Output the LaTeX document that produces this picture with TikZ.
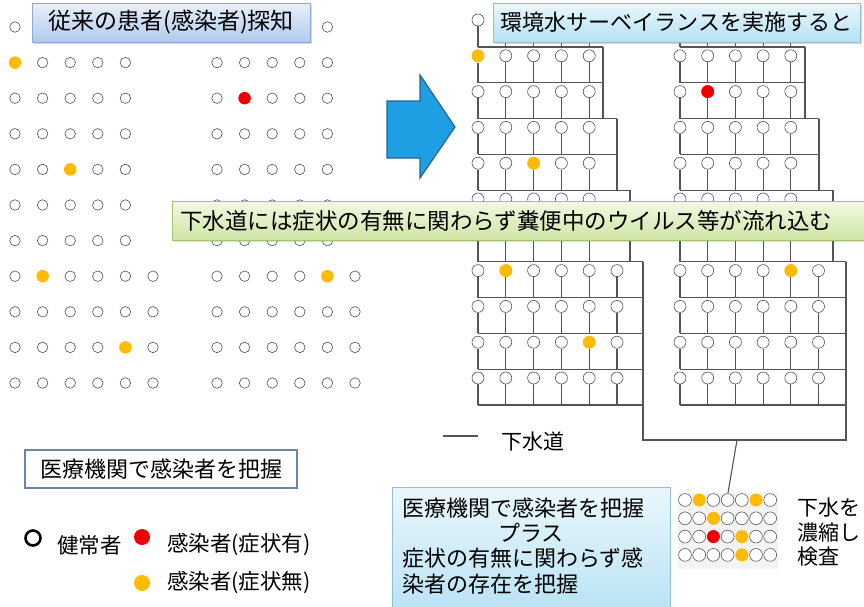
\documentclass[tikz,border=0pt]{standalone}
\usepackage{fontspec}
\setmainfont{Noto Sans CJK JP}
\usetikzlibrary{shadows}
\definecolor{dotorange}{HTML}{FFBB00}
\definecolor{dotred}{HTML}{EE0000}
\definecolor{pipegray}{HTML}{555555}
\definecolor{ringgray}{HTML}{505050}
\definecolor{arrowfill}{HTML}{1E9FE3}
\definecolor{arrowline}{HTML}{23639A}
\definecolor{tLtop}{HTML}{E8F0FB}
\definecolor{tLbot}{HTML}{B0CAEC}
\definecolor{tLedge}{HTML}{8EA9CF}
\definecolor{tRtop}{HTML}{EAF7FC}
\definecolor{tRbot}{HTML}{B4E1F4}
\definecolor{tRedge}{HTML}{93BFD3}
\definecolor{gTop}{HTML}{F3FAE4}
\definecolor{gBot}{HTML}{CDE5A4}
\definecolor{gEdge}{HTML}{A6C17A}
\definecolor{boxedge}{HTML}{6C86AA}
\definecolor{concbg}{HTML}{F3F3F3}
\tikzset{
  ring/.style={circle,draw=ringgray,line width=0.6pt,fill=white,inner sep=0pt,minimum size=10.5pt},
  ringR/.style={ring,minimum size=12pt},
  ringC/.style={ring,minimum size=12.8pt,line width=0.55pt},
  orng/.style={draw=none,fill=dotorange,minimum size=12.5pt},
  redd/.style={draw=none,fill=dotred,minimum size=12.5pt},
  orngR/.style={draw=none,fill=dotorange,minimum size=13pt},
  reddR/.style={draw=none,fill=dotred,minimum size=13pt},
  pipe/.style={draw=pipegray,line width=1.1pt},
  titleL/.style={draw=tLedge,line width=0.8pt,top color=tLtop,bottom color=tLbot,
    drop shadow={shadow xshift=2pt,shadow yshift=-2pt,opacity=0.3}},
  titleR/.style={draw=tRedge,line width=0.8pt,top color=tRtop,bottom color=tRbot,
    drop shadow={shadow xshift=2pt,shadow yshift=-2pt,opacity=0.3}},
  bannerG/.style={draw=gEdge,line width=0.8pt,top color=gTop,bottom color=gBot,
    drop shadow={shadow xshift=2pt,shadow yshift=-2pt,opacity=0.25}},
  plusbox/.style={draw=tRedge,line width=0.8pt,top color=tRtop,bottom color=tRbot},
  txt/.style={inner sep=0pt},
  % coloured dots
  dotL-1-1/.style={orng}, dotM-2-2/.style={redd}, dotL-4-3/.style={orng},
  dotL-7-2/.style={orng}, dotM-7-5/.style={orng}, dotL-9-5/.style={orng},
  dotP-1-1/.style={orngR}, dotQ-2-2/.style={reddR}, dotP-4-3/.style={orngR},
  dotP-7-2/.style={orngR}, dotQ-7-5/.style={orngR}, dotP-9-5/.style={orngR},
  dotC-1-2/.style={orngR}, dotC-1-6/.style={orngR}, dotC-2-3/.style={orngR},
  dotC-3-3/.style={reddR}, dotC-3-5/.style={orngR}, dotC-4-5/.style={orngR},
}
\begin{document}
\begin{tikzpicture}[x=1pt,y=-1pt,font=\fontsize{22}{26}\selectfont]
\useasboundingbox[fill=white] (0,0) rectangle (864,606);

% ---------- left panel: people only ----------
\foreach \k in {0,...,10}{
  \pgfmathsetmacro\yy{27+35.6*\k}
  \pgfmathtruncatemacro\nc{\k<7?5:6}
  \foreach \i in {1,...,\nc}{
    \node[ring,dotL-\k-\i/.try] (L-\k-\i) at ({15+27.6*(\i-1)},\yy) {};
    \node[ring,dotM-\k-\i/.try] (M-\k-\i) at ({217+27.6*(\i-1)},\yy) {};
  }
}

% ---------- right panel: people on the sewer ----------
\foreach \k/\ta/\tb in {0/603/805,1/603/805,2/617/819,3/617/819,4/630/833,5/630/833,6/643/846,7/643/846,8/643/846,9/643/846,10/643/846}{
  \pgfmathsetmacro\yy{20+35.8*\k}
  \pgfmathsetmacro\hh{47+35.8*\k}
  \pgfmathtruncatemacro\nc{\k<7?5:6}
  \coordinate (Pa-\k) at (478,\hh);
  \coordinate (Pb-\k) at (\ta,\hh);
  \coordinate (Qa-\k) at (680,\hh);
  \coordinate (Qb-\k) at (\tb,\hh);
  \draw[pipe] (Pa-\k) -- (Pb-\k);
  \draw[pipe] (Qa-\k) -- (Qb-\k);
  \foreach \i in {1,...,\nc}{
    \node[ringR,dotP-\k-\i/.try] (P-\k-\i) at ({478+27.8*(\i-1)},\yy) {};
    \node[ringR,dotQ-\k-\i/.try] (Q-\k-\i) at ({680+27.7*(\i-1)},\yy) {};
    \draw[pipe] (P-\k-\i) -- (P-\k-\i |- Pa-\k);
    \draw[pipe] (Q-\k-\i) -- (Q-\k-\i |- Qa-\k);
  }
}
\coordinate (J1) at (643,440);
\coordinate (J2) at (846,440);
\coordinate (J0) at (737,440);
\draw[pipe] (Pb-0) -- (Pb-0 |- Pb-2);
\draw[pipe] (Pb-2) -- (Pb-2 |- Pb-4);
\draw[pipe] (Pb-4) -- (Pb-4 |- Pb-6);
\draw[pipe] (Qb-0) -- (Qb-0 |- Qb-2);
\draw[pipe] (Qb-2) -- (Qb-2 |- Qb-4);
\draw[pipe] (Qb-4) -- (Qb-4 |- Qb-6);
\draw[pipe] (Pb-6) -- (J1) -- (J2) -- (Qb-6);

% ---------- concentrated sample ----------
\node[fill=concbg,minimum width=100pt,minimum height=76pt,inner sep=0pt] (conc) at (728,531) {};
\draw[pipe] (J0) -- (conc.north);
\foreach \r in {1,...,4}
  \foreach \c in {1,...,7}
    \node[ringC,dotC-\r-\c/.try] (C-\r-\c) at ({685+14.2*(\c-1)},{500+18.3*(\r-1)}) {};
\node[txt,anchor=west] (k1) at (797,508) {\fontsize{21}{25}\selectfont 下水を};
\node[txt,anchor=west] (k2) at (797,532) {\fontsize{21}{25}\selectfont 濃縮し};
\node[txt,anchor=west] (k3) at (797,557) {\fontsize{21}{25}\selectfont 検査};

% ---------- arrow ----------
\draw[fill=arrowfill,draw=arrowline,line width=1.2pt,line join=miter]
  (387,101) -- (420,101) -- (420,75) -- (455,127) -- (420,178) -- (420,158) -- (387,158) -- cycle;

% ---------- titles and banner ----------
\node[titleL,minimum width=278pt,minimum height=39pt,inner sep=0pt] (tL) at (171,22.5)
  {\fontsize{23}{26}\selectfont 従来の患者(感染者)探知};
\node[titleR,minimum width=367pt,minimum height=39pt,inner sep=0pt] (tR) at (676.5,22.5)
  {\fontsize{22}{26}\selectfont 環境水サーベイランスを実施すると};
\node[bannerG,anchor=west,inner xsep=8pt,inner ysep=0pt,text width=678pt,align=left,minimum height=39pt] (bn) at (172,220.5)
  {\fontsize{22.5}{26}\selectfont 下水道には症状の有無に関わらず糞便中のウイルス等が流れ込む};

% ---------- sewer legend ----------
\coordinate (sw1) at (443,436);
\coordinate (sw2) at (478,436);
\draw[pipe,line width=1.4pt] (sw1) -- (sw2);
\node[txt,anchor=west] (swt) at (501,442) {\fontsize{21}{25}\selectfont 下水道};

% ---------- left bottom ----------
\node[draw=boxedge,line width=1.6pt,fill=white,minimum width=272pt,minimum height=38pt,inner sep=0pt] (mb) at (161,469)
  {\fontsize{22}{26}\selectfont 医療機関で感染者を把握};
\node[circle,draw=black,line width=2.6pt,minimum size=15pt,inner sep=0pt] (lg0) at (33,538) {};
\node[txt,anchor=west] (lg0t) at (57,545) {\fontsize{21.5}{25}\selectfont 健常者};
\node[circle,fill=dotred,minimum size=16pt,inner sep=0pt] (lg1) at (142,537) {};
\node[txt,anchor=west] (lg1t) at (167,545) {\fontsize{21.5}{25}\selectfont 感染者(症状有)};
\node[circle,fill=dotorange,minimum size=16pt,inner sep=0pt] (lg2) at (142,583) {};
\node[txt,anchor=west] (lg2t) at (167,582) {\fontsize{21.5}{25}\selectfont 感染者(症状無)};

% ---------- right bottom box ----------
\node[plusbox,anchor=north west,minimum width=278pt,minimum height=135pt,inner sep=0pt] (pb) at (392,487) {};
\node[txt,anchor=west] (p1) at (402,508) {\fontsize{22}{26}\selectfont 医療機関で感染者を把握};
\node[txt] (p2) at (531,533) {\fontsize{22}{26}\selectfont プラス};
\node[txt,anchor=west] (p3) at (402,558) {\fontsize{22}{26}\selectfont 症状の有無に関わらず感};
\node[txt,anchor=west] (p4) at (402,584) {\fontsize{22}{26}\selectfont 染者の存在を把握};
\end{tikzpicture}
\end{document}
